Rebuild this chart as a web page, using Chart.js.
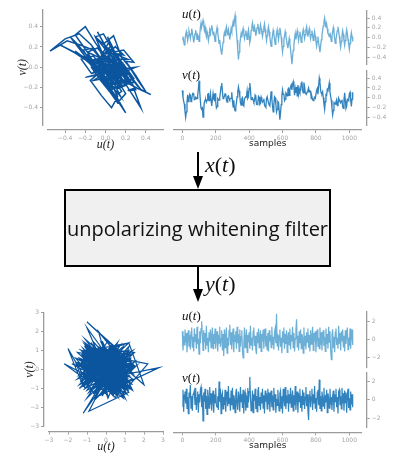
<!DOCTYPE html>
<html>
<head>
<meta charset="utf-8">
<script src="https://cdn.jsdelivr.net/npm/chart.js@4/dist/chart.umd.min.js"></script>
<style>
  body { margin: 0; background: #fff; }
  #page { position: relative; width: 393px; height: 453px; overflow: hidden; }
  canvas { position: absolute; left: 0; top: 0; }
  .lbl { position: absolute; font-family: 'Liberation Serif', serif; color: #111; white-space: nowrap; line-height: 1; }
  .lbl i { font-style: italic; }
  #box { position: absolute; left: 64px; top: 189px; width: 267px; height: 78px; box-sizing: border-box;
         border: 2px solid #000; background: #f0f0f0; display: flex; align-items: center; justify-content: center;
         font-family: 'Open Sans', sans-serif; font-size: 20px; color: #111; }
</style>
</head>
<body>
<div id="page">
  <canvas id="phaseIn" width="393" height="453"></canvas>
  <canvas id="uInChart" width="393" height="453"></canvas>
  <canvas id="vInChart" width="393" height="453"></canvas>
  <canvas id="phaseOut" width="393" height="453"></canvas>
  <canvas id="uOutChart" width="393" height="453"></canvas>
  <canvas id="vOutChart" width="393" height="453"></canvas>

  <div class="lbl" style="left:182px;top:7px;font-size:13px"><i>u</i>(<i>t</i>)</div>
  <div class="lbl" style="left:182px;top:68px;font-size:13px"><i>v</i>(<i>t</i>)</div>
  <div class="lbl" style="left:182px;top:309px;font-size:13px"><i>u</i>(<i>t</i>)</div>
  <div class="lbl" style="left:182px;top:371px;font-size:13px"><i>v</i>(<i>t</i>)</div>

  <svg width="393" height="453" style="position:absolute;left:0;top:0">
    <line x1="198" y1="152" x2="198" y2="180" stroke="#000" stroke-width="2"/>
    <polygon points="193,176 203,176 198,189" fill="#000"/>
    <line x1="198" y1="267" x2="198" y2="292" stroke="#000" stroke-width="2"/>
    <polygon points="193,289 203,289 198,302" fill="#000"/>
  </svg>
  <div class="lbl" style="left:205px;top:154px;font-size:22px"><i>x</i>(<i>t</i>)</div>
  <div class="lbl" style="left:205px;top:273px;font-size:22px"><i>y</i>(<i>t</i>)</div>
  <div id="box">unpolarizing whitening filter</div>
</div>
<script>
// x(t): input signal, one value every 4 samples
const sampleStep = 4
const uIn = [-0.05, 0.02, -0.08, -0.15, -0.04, 0.06, 0.12, 0.03, -0.06, 0.04, 0.14, 0.08, -0.02, 0.07, 0.18, 0.10,
  0.02, -0.10, -0.03, 0.08, 0.15, 0.06, -0.04, 0.05, 0.02, -0.08, 0.04, 0.20, 0.30, 0.22, 0.28, 0.35,
  0.26, 0.15, 0.22, 0.10, 0.02, 0.12, 0.05, -0.06, 0.04, 0.14, 0.08, 0.18, 0.25, 0.16, 0.06, 0.12,
  0.02, -0.08, 0.03, 0.12, 0.20, 0.10, 0.00, -0.12, -0.05, -0.18, -0.28, -0.35, -0.22, -0.10, 0.02, 0.10,
  0.04, 0.15, 0.22, 0.12, 0.05, 0.16, 0.08, -0.04, 0.06, 0.18, 0.12, 0.24, 0.32, 0.22, 0.35, 0.45,
  0.30, 0.12, -0.05, -0.25, -0.45, -0.30, -0.15, -0.02, 0.08, 0.00, 0.10, 0.18, 0.08, -0.02, 0.06, 0.14,
  0.06, -0.04, 0.08, 0.16, 0.02, -0.10, -0.04, 0.14, 0.22, 0.30, 0.20, 0.12, 0.22, 0.15, 0.04, 0.12,
  0.20, 0.28, 0.18, 0.08, 0.16, 0.26, 0.18, 0.10, 0.02, 0.12, 0.20, 0.28, 0.16, 0.06, -0.06, 0.04,
  0.14, 0.22, 0.12, 0.02, -0.10, -0.18, -0.06, 0.05, 0.15, 0.08, -0.04, -0.14, -0.04, 0.08, 0.16, 0.06,
  -0.04, 0.08, 0.20, 0.12, 0.00, -0.16, -0.30, -0.18, -0.06, 0.04, 0.12, 0.04, -0.06, -0.14, -0.22, -0.12,
  -0.02, -0.12, -0.25, -0.38, -0.55, -0.40, -0.26, -0.14, -0.02, 0.08, -0.04, 0.06, 0.14, 0.04, -0.06, 0.04,
  0.12, 0.02, -0.10, -0.02, 0.08, 0.16, 0.08, -0.02, 0.06, 0.15, 0.22, 0.12, 0.02, 0.10, 0.18, 0.08,
  -0.02, 0.06, 0.14, 0.04, -0.06, 0.03, 0.12, 0.02, -0.08, -0.18, -0.08, 0.02, -0.10, -0.20, -0.30, -0.18,
  -0.05, 0.06, 0.14, 0.24, 0.32, 0.40, 0.30, 0.20, 0.28, 0.18, 0.08, 0.06, 0.02, 0.10, 0.02, -0.08,
  0.02, 0.12, 0.20, 0.10, -0.02, -0.12, -0.04, 0.06, 0.14, 0.22, 0.12, 0.02, -0.10, -0.20, -0.08, 0.04,
  0.14, 0.06, -0.06, -0.16, -0.06, 0.06, 0.16, 0.08, -0.04, -0.14, -0.24, -0.12, 0.00, 0.10, 0.02, -0.08]
const vIn = [0.15, 0.01, -0.07, -0.13, -0.28, -0.40, -0.29, -0.10, 0.06, -0.08, -0.03, 0.07, 0.05, -0.08, -0.05, 0.06,
  0.09, 0.08, -0.04, -0.03, 0.01, 0.00, -0.02, 0.05, 0.17, 0.35, 0.14, -0.06, -0.22, -0.23, -0.21, -0.40,
  -0.26, -0.09, -0.05, -0.04, -0.09, -0.05, 0.07, 0.08, -0.06, -0.02, 0.09, -0.05, -0.17, -0.04, 0.08, -0.03,
  -0.05, 0.09, -0.08, -0.21, -0.18, -0.02, -0.04, -0.05, 0.01, 0.11, 0.23, 0.30, 0.13, -0.02, 0.01, 0.02,
  0.08, 0.07, -0.05, -0.09, 0.03, 0.04, -0.01, -0.04, -0.02, -0.01, 0.11, -0.06, -0.19, -0.05, -0.22, -0.27,
  -0.20, -0.10, 0.02, 0.12, 0.22, 0.14, 0.04, -0.10, -0.15, -0.02, 0.00, -0.15, -0.17, -0.03, 0.00, 0.02,
  0.02, 0.14, -0.01, 0.02, 0.19, 0.30, 0.16, -0.04, -0.01, 0.00, -0.04, -0.09, -0.07, 0.05, 0.02, -0.13,
  -0.14, -0.11, 0.03, 0.01, -0.14, -0.12, 0.01, -0.04, -0.09, -0.07, -0.02, -0.15, -0.18, -0.20, -0.02, 0.02,
  0.02, -0.11, -0.15, -0.17, -0.02, 0.13, -0.02, -0.17, -0.29, -0.15, 0.02, 0.00, -0.14, -0.29, -0.24, -0.08,
  -0.10, -0.27, -0.45, -0.31, -0.14, 0.04, 0.16, 0.07, 0.08, -0.06, -0.03, 0.10, 0.08, 0.04, 0.17, 0.19,
  0.05, 0.17, 0.22, 0.26, 0.16, 0.28, 0.33, 0.22, 0.05, 0.19, 0.10, 0.22, 0.04, 0.26, 0.08, 0.18,
  0.12, 0.15, 0.30, 0.33, 0.15, 0.10, 0.31, 0.23, 0.10, 0.08, 0.08, 0.12, 0.15, 0.20, 0.12, 0.14,
  0.13, -0.02, 0.02, -0.04, -0.06, -0.02, 0.01, -0.01, -0.01, 0.15, 0.19, 0.07, 0.24, 0.40, 0.32, 0.15,
  0.09, 0.08, 0.12, 0.00, -0.13, -0.24, -0.08, 0.06, 0.05, 0.17, 0.15, 0.22, 0.30, 0.12, 0.03, -0.05,
  -0.21, -0.35, -0.26, -0.10, -0.11, -0.13, -0.08, -0.04, -0.16, -0.15, -0.01, -0.05, -0.08, -0.10, -0.07, -0.04,
  -0.18, -0.22, -0.04, 0.10, -0.06, -0.22, -0.18, -0.03, -0.04, -0.06, 0.08, 0.11, -0.04, -0.18, -0.03, 0.11]

// y(t): whitened output, same sampling
const uOut = [0.9, -1.2, 0.4, -0.6, 1.1, -0.3, 0.7, -1.4, 0.2, 1.0, -0.8, 0.5, -1.1, 0.8, 1.3, -0.9,
  0.3, -1.3, 1.2, -0.2, 0.6, -1.0, 1.4, -0.5, 0.1, -1.6, 0.9, -0.4, 1.2, 2.0, 0.5, -1.2,
  1.0, -0.3, 0.7, -1.1, 1.5, -0.6, 0.2, -1.4, 0.8, -0.2, 1.1, -0.9, 0.4, 1.3, -1.0, 0.6,
  -0.5, 1.2, -1.0, 0.3, 0.9, -1.3, 0.5, -0.4, 1.4, -0.8, 0.1, 1.0, -1.2, 0.6, -1.8, 1.1,
  -0.9, 0.4, 1.3, -1.5, 0.2, -0.7, 1.0, 1.6, -0.6, 0.8, -1.1, 0.3, 1.2, -1.4, 0.5, -0.2,
  0.9, -1.0, 1.4, -0.4, 0.6, -1.3, 1.1, -0.8, 0.3, 1.0, -1.2, -2.0, -0.5, 1.3, -0.9, 0.2,
  1.1, -1.4, 0.5, -0.3, 0.8, -1.0, 1.5, -0.6, 0.2, -1.2, 0.9, 1.3, -0.7, 0.4, -1.1, -1.6,
  0.8, -0.4, 1.2, -0.9, 0.3, 1.0, -1.3, 0.6, -0.2, 1.1, -1.0, 0.5, 1.2, -0.8, 0.4, -1.1,
  0.7, -1.3, 1.0, -0.2, 0.5, -0.9, 1.4, -0.6, 0.3, -1.1, 0.8, 1.2, -0.4, 2.8, -0.7, 0.6,
  -1.2, 0.4, 1.1, -0.8, 0.2, -1.5, 0.9, -0.3, 1.3, -1.0, 0.6, -0.5, 1.0, -1.4, 0.3, 0.8,
  -0.6, 1.2, -1.1, 0.5, -0.2, 1.4, -0.9, 0.7, -1.3, 0.1, 1.0, 2.2, -0.8, 0.4, -1.2, 0.9,
  -0.4, 1.1, -1.0, 0.6, 0.2, -1.5, 1.3, -0.7, 0.4, -1.1, 0.8, -0.3, 1.2, -0.9, 0.5, -1.3,
  1.0, -0.5, 0.3, 1.4, -1.2, 0.7, -0.2, 0.9, -1.4, 0.5, 1.1, -0.8, 0.2, -1.0, 1.3, -0.6,
  0.8, -1.2, 0.4, 1.0, -0.7, 0.3, -1.3, 1.2, -0.5, 0.6, -1.0, 1.4, -0.3, 0.9, -1.1, -2.2,
  0.5, 1.1, -0.9, 0.3, -1.4, 0.8, 1.2, -0.6, 0.2, -1.0, 1.5, -0.4, 0.7, -1.2, 0.9, -0.2,
  1.1, -0.8, 0.4, -1.3, 1.0, -0.5, 0.6, 1.3, -1.1, 0.2, -0.7, 1.2, -1.0, 0.5, 1.1, -0.6]
const vOut = [-0.7, 1.1, -1.3, 0.5, 0.9, -0.4, 1.2, -1.0, 0.3, -1.5, 0.8, 0.2, 1.6, -0.9, 0.4, -1.2,
  0.6, 0.7, 1.0, -0.5, 1.3, -1.1, 0.2, 0.9, -1.4, 0.6, -0.3, 1.1, 1.4, -0.8, 0.5, -2.3,
  0.8, -0.2, 1.2, -1.0, 0.4, -1.6, 1.1, 0.3, -0.9, 1.4, -0.5, 0.7, -1.2, 0.2, 1.0, -1.4,
  0.6, -0.3, 1.3, -0.6, -0.8, 0.4, -1.1, 2.0, -0.2, 1.2, -1.5, 0.5, 0.8, -1.0, 0.3, -0.6,
  1.1, -1.3, 0.4, 0.9, -0.7, 1.5, -0.4, 0.2, -1.2, 1.0, -0.6, 1.3, -1.0, 0.5, 0.1, -1.4,
  0.7, 1.2, -0.5, -1.1, 0.9, 0.3, -1.3, 1.4, -0.2, 0.6, -0.9, 1.1, -1.5, 0.4, 0.8, -1.2,
  0.5, -0.8, 1.3, -0.3, 0.9, 2.5, 0.2, -1.2, -0.7, 1.0, -1.4, 0.6, -0.1, 1.2, -1.0, 0.4,
  -1.3, 0.9, 1.4, -0.6, 0.3, -1.1, 0.8, -0.4, 1.2, -0.9, 0.5, -1.5, 1.0, -0.2, 0.7, -1.0,
  1.2, -0.5, 0.8, -1.3, 0.3, 1.0, -0.8, 0.5, -1.1, 1.3, -0.2, 0.6, -1.4, 0.1, -0.6, 1.1,
  -0.3, -1.2, 0.7, 1.0, -0.9, 0.4, -1.5, 1.2, 0.2, -0.7, 1.4, -1.0, 0.5, -0.3, 1.1, -1.3,
  0.6, -0.4, 1.3, -0.8, 0.2, 1.0, -1.2, 0.5, -0.6, 1.5, -1.1, 0.3, 0.9, -1.4, 0.7, -0.2,
  1.2, -0.9, 0.4, -1.3, 1.1, -0.5, 0.8, -1.0, 0.3, 1.4, -0.7, 0.6, -1.2, -2.2, 0.5, 1.0,
  -0.8, 0.3, 1.2, -1.1, 0.6, -0.4, 1.5, -0.9, 0.2, -1.3, 0.8, 1.1, -0.6, 2.2, -1.0, 0.4,
  -1.2, 0.9, 0.3, -0.7, 1.3, -1.0, 0.5, -0.3, 1.1, -1.4, 0.7, 0.2, -0.9, 1.2, -0.5, 0.3,
  -1.1, 0.4, 1.0, -1.3, 0.6, -0.2, 1.2, -0.8, 0.3, -1.5, 0.9, 1.1, -0.6, 0.4, -1.0, 1.3,
  -0.4, 0.7, -1.2, 1.0, -0.3, 0.8, -1.4, 0.5, 1.2, -0.9, 0.2, -1.1, 0.9, -0.5, 0.6, -0.8]

const ticksIn = [-0.4, -0.2, 0, 0.2, 0.4]
const ticksOutPhase = [-3, -2, -1, 0, 1, 2, 3]
const ticksOutSeries = [-2, 0, 2]
const ticksSamples = [0, 200, 400, 600, 800, 1000]

const W = 393, H = 453, AXW = 30, AXH = 25, GAP = 5
const spineColor = '#9b9b9b'
const lightBlue = '#6baed6', midBlue = '#3182bd', darkBlue = '#0b559f'

// push the visible axes away from the plot, like seaborn's offset spines
const offsetSpines = {
    id: 'offsetSpines',
    afterLayout(chart) {
        Object.values(chart.scales).forEach(s => {
            if (!s.options.display) return
            if (s.position === 'left') { s.left -= GAP; s.right -= GAP }
            else if (s.position === 'right') { s.left += GAP; s.right += GAP }
            else if (s.position === 'bottom') { s.top += GAP; s.bottom += GAP }
        })
    }
}

function fmt1(v) { return v.toFixed(1).replace('-', '\u2212') }
function fmt0(v) { return String(v).replace('-', '\u2212') }

function axis(position, min, max, ticks, format, title) {
    const horiz = position === 'bottom'
    return {
        type: 'linear', position, min, max,
        afterBuildTicks: s => { s.ticks = ticks.map(v => ({ value: v })) },
        afterFit: s => { if (horiz) s.height = AXH; else s.width = AXW },
        border: { display: true, color: spineColor, width: 1.3 },
        grid: { display: true, drawOnChartArea: false, drawTicks: true, tickLength: 3, color: spineColor },
        ticks: { autoSkip: false, maxRotation: 0, padding: 2, color: '#a5a5a5',
                 font: { family: 'DejaVu Sans', size: 6 }, callback: v => format(v) },
        title: title || { display: false }
    }
}

function hidden(min, max) { return { type: 'linear', min, max, display: false } }

function pad(l, t, r, b, sides) {
    return {
        left: l - (sides.left ? AXW : 0), top: t,
        right: W - r - (sides.right ? AXW : 0),
        bottom: H - b - (sides.bottom ? AXH : 0)
    }
}

const mathTitle = (text, padding) => ({ display: true, text, color: '#222', padding,
    font: { family: 'Liberation Serif', style: 'italic', size: 12 } })
const samplesTitle = pb => ({ display: true, text: 'samples', color: '#222',
    padding: { top: 0, bottom: pb }, font: { family: 'DejaVu Sans', size: 9 } })

function makeChart(id, data, color, width, scales, padding) {
    return new Chart(document.getElementById(id), {
        type: 'scatter',
        data: { datasets: [{ data, showLine: true, borderColor: color, borderWidth: width,
                             pointRadius: 0, tension: 0 }] },
        options: {
            responsive: false, animation: false, devicePixelRatio: 1,
            layout: { padding },
            plugins: { legend: { display: false }, tooltip: { enabled: false } },
            scales
        },
        plugins: [offsetSpines]
    })
}

const series = vals => vals.map((v, i) => ({ x: i * sampleStep, y: v }))
const phase = (u, v) => u.map((a, i) => ({ x: a, y: v[i] }))

// top: input
makeChart('phaseIn', phase(uIn, vIn), darkBlue, 1.5, {
    x: axis('bottom', -0.57, 0.57, ticksIn, fmt1, mathTitle('u(t)', { top: 0, bottom: 2.8 })),
    y: axis('left', -0.57, 0.57, ticksIn, fmt1, mathTitle('v(t)', { top: 2.8, bottom: 0 }))
}, pad(48, 9.5, 163, 125, { left: true, bottom: true }))

makeChart('uInChart', series(uIn), lightBlue, 1.3, {
    x: hidden(-51, 1074),
    y: axis('right', -0.56, 0.56, ticksIn, fmt1)
}, pad(173.8, 10.2, 361.7, 64.8, { right: true }))

makeChart('vInChart', series(vIn), midBlue, 1.3, {
    x: axis('bottom', -51, 1074, ticksSamples, fmt0, samplesTitle(5.6)),
    y: axis('right', -0.56, 0.56, ticksIn, fmt1)
}, pad(173.8, 70.4, 361.7, 125, { right: true, bottom: true }))

// bottom: whitened output
makeChart('phaseOut', phase(uOut, vOut), darkBlue, 1.2, {
    x: axis('bottom', -3, 3, ticksOutPhase, fmt0, mathTitle('u(t)', { top: 0, bottom: 2.8 })),
    y: axis('left', -3, 3, ticksOutPhase, fmt0, mathTitle('v(t)', { top: 8.8, bottom: 0 }))
}, pad(49, 312.5, 163, 426.5, { left: true, bottom: true }))

makeChart('uOutChart', series(uOut), lightBlue, 1.2, {
    x: hidden(-51, 1074),
    y: axis('right', -3, 3, ticksOutSeries, fmt0)
}, pad(173.8, 312, 361.7, 367, { right: true }))

makeChart('vOutChart', series(vOut), midBlue, 1.2, {
    x: axis('bottom', -51, 1074, ticksSamples, fmt0, samplesTitle(5.9)),
    y: axis('right', -3, 3, ticksOutSeries, fmt0)
}, pad(173.8, 372.3, 361.7, 427.3, { right: true, bottom: true }))
</script>
</body>
</html>
